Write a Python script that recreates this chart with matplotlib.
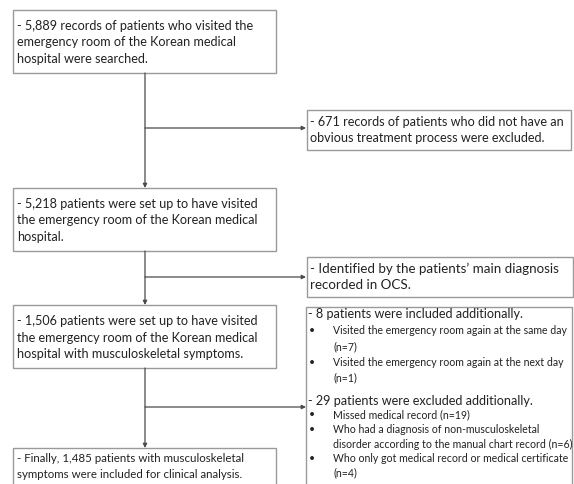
import matplotlib.pyplot as plt
from matplotlib.patches import Rectangle

plt.rcParams['font.family'] = ['Lato', 'DejaVu Sans']

# main boxes (left column)
main_texts = [
    ["- 5,889 records of patients who visited the",
     "emergency room of the Korean medical",
     "hospital were searched."],
    ["- 5,218 patients were set up to have visited",
     "the emergency room of the Korean medical",
     "hospital."],
    ["- 1,506 patients were set up to have visited",
     "the emergency room of the Korean medical",
     "hospital with musculoskeletal symptoms."],
    ["- Finally, 1,485 patients with musculoskeletal",
     "symptoms were included for clinical analysis."],
]

# side boxes (right column)
side_texts = [
    ["- 671 records of patients who did not have an",
     "obvious treatment process were excluded."],
    ["- Identified by the patients\u2019 main diagnosis",
     "recorded in OCS."],
]

incl_head = "- 8 patients were included additionally."
incl_items = [["Visited the emergency room again at the same day", "(n=7)"],
              ["Visited the emergency room again at the next day", "(n=1)"]]
excl_head = "- 29 patients were excluded additionally."
excl_items = [["Missed medical record (n=19)"],
              ["Who had a diagnosis of non-musculoskeletal",
               "disorder according to the manual chart record (n=6)"],
              ["Who only got medical record or medical certificate", "(n=4)"]]

W, H = 574, 484
fig = plt.figure(figsize=(W / 100, H / 100), dpi=100)
ax = fig.add_axes([0, 0, 1, 1])
ax.set_xlim(0, W)
ax.set_ylim(H, 0)
ax.axis('off')

border = '#9a9a9a'
line_c = '#4a4a4a'
txt_c = '#222222'
fs_main = 9.1
fs_small = 7.6

# x, y, w, h, font size, first line offset, line step
main_boxes = [(13, 10, 263, 63, fs_main, 16, 16.5),
              (13, 188, 263, 63, fs_main, 16, 16.5),
              (13, 305, 263, 63, fs_main, 16, 16.5),
              (13, 448, 263, 45, 8.3, 11, 15)]
for (x, y, w, h, fs, off, step), lines in zip(main_boxes, main_texts):
    ax.add_patch(Rectangle((x, y), w, h, fill=False, ec=border, lw=1.0))
    for i, s in enumerate(lines):
        ax.text(x + 4, y + off + i * step, s, fontsize=fs, color=txt_c, va='center', ha='left')

side_boxes = [(307, 110, 264, 40, fs_main), (307, 257, 266, 40, 9.6)]
for (x, y, w, h, fs), lines in zip(side_boxes, side_texts):
    ax.add_patch(Rectangle((x, y), w, h, fill=False, ec=border, lw=1.0))
    for i, s in enumerate(lines):
        ax.text(x + 3, y + 12 + i * 16, s, fontsize=fs, color=txt_c, va='center', ha='left')

# big right box with inclusion / exclusion lists
ax.add_patch(Rectangle((306, 307), 266, 190, fill=False, ec=border, lw=1.0))
y = 314
ax.text(308, y, incl_head, fontsize=fs_main, color=txt_c, va='center')
y += 16.5
for item in incl_items:
    ax.text(309, y, '\u2022', fontsize=fs_small, color=txt_c, va='center')
    for s in item:
        ax.text(333, y, s, fontsize=fs_small, color=txt_c, va='center')
        y += 15.8
y = 401
ax.text(308, y, excl_head, fontsize=fs_main, color=txt_c, va='center')
y += 14
for item in excl_items:
    ax.text(309, y, '\u2022', fontsize=fs_small, color=txt_c, va='center')
    for s in item:
        ax.text(333, y, s, fontsize=fs_small, color=txt_c, va='center')
        y += 14.5

# connectors
cx = 145
arrow = dict(arrowstyle='-|>', color=line_c, lw=0.9, mutation_scale=6, shrinkA=0, shrinkB=0)
segments = [(73, 188, 128), (251, 305, 277), (368, 448, 407)]
for y0, y1, yb in segments:
    ax.annotate('', xy=(cx, y1), xytext=(cx, y0), arrowprops=arrow)
    ax.annotate('', xy=(306, yb), xytext=(cx, yb), arrowprops=arrow)

fig.savefig('out.png', dpi=100, facecolor='white')
